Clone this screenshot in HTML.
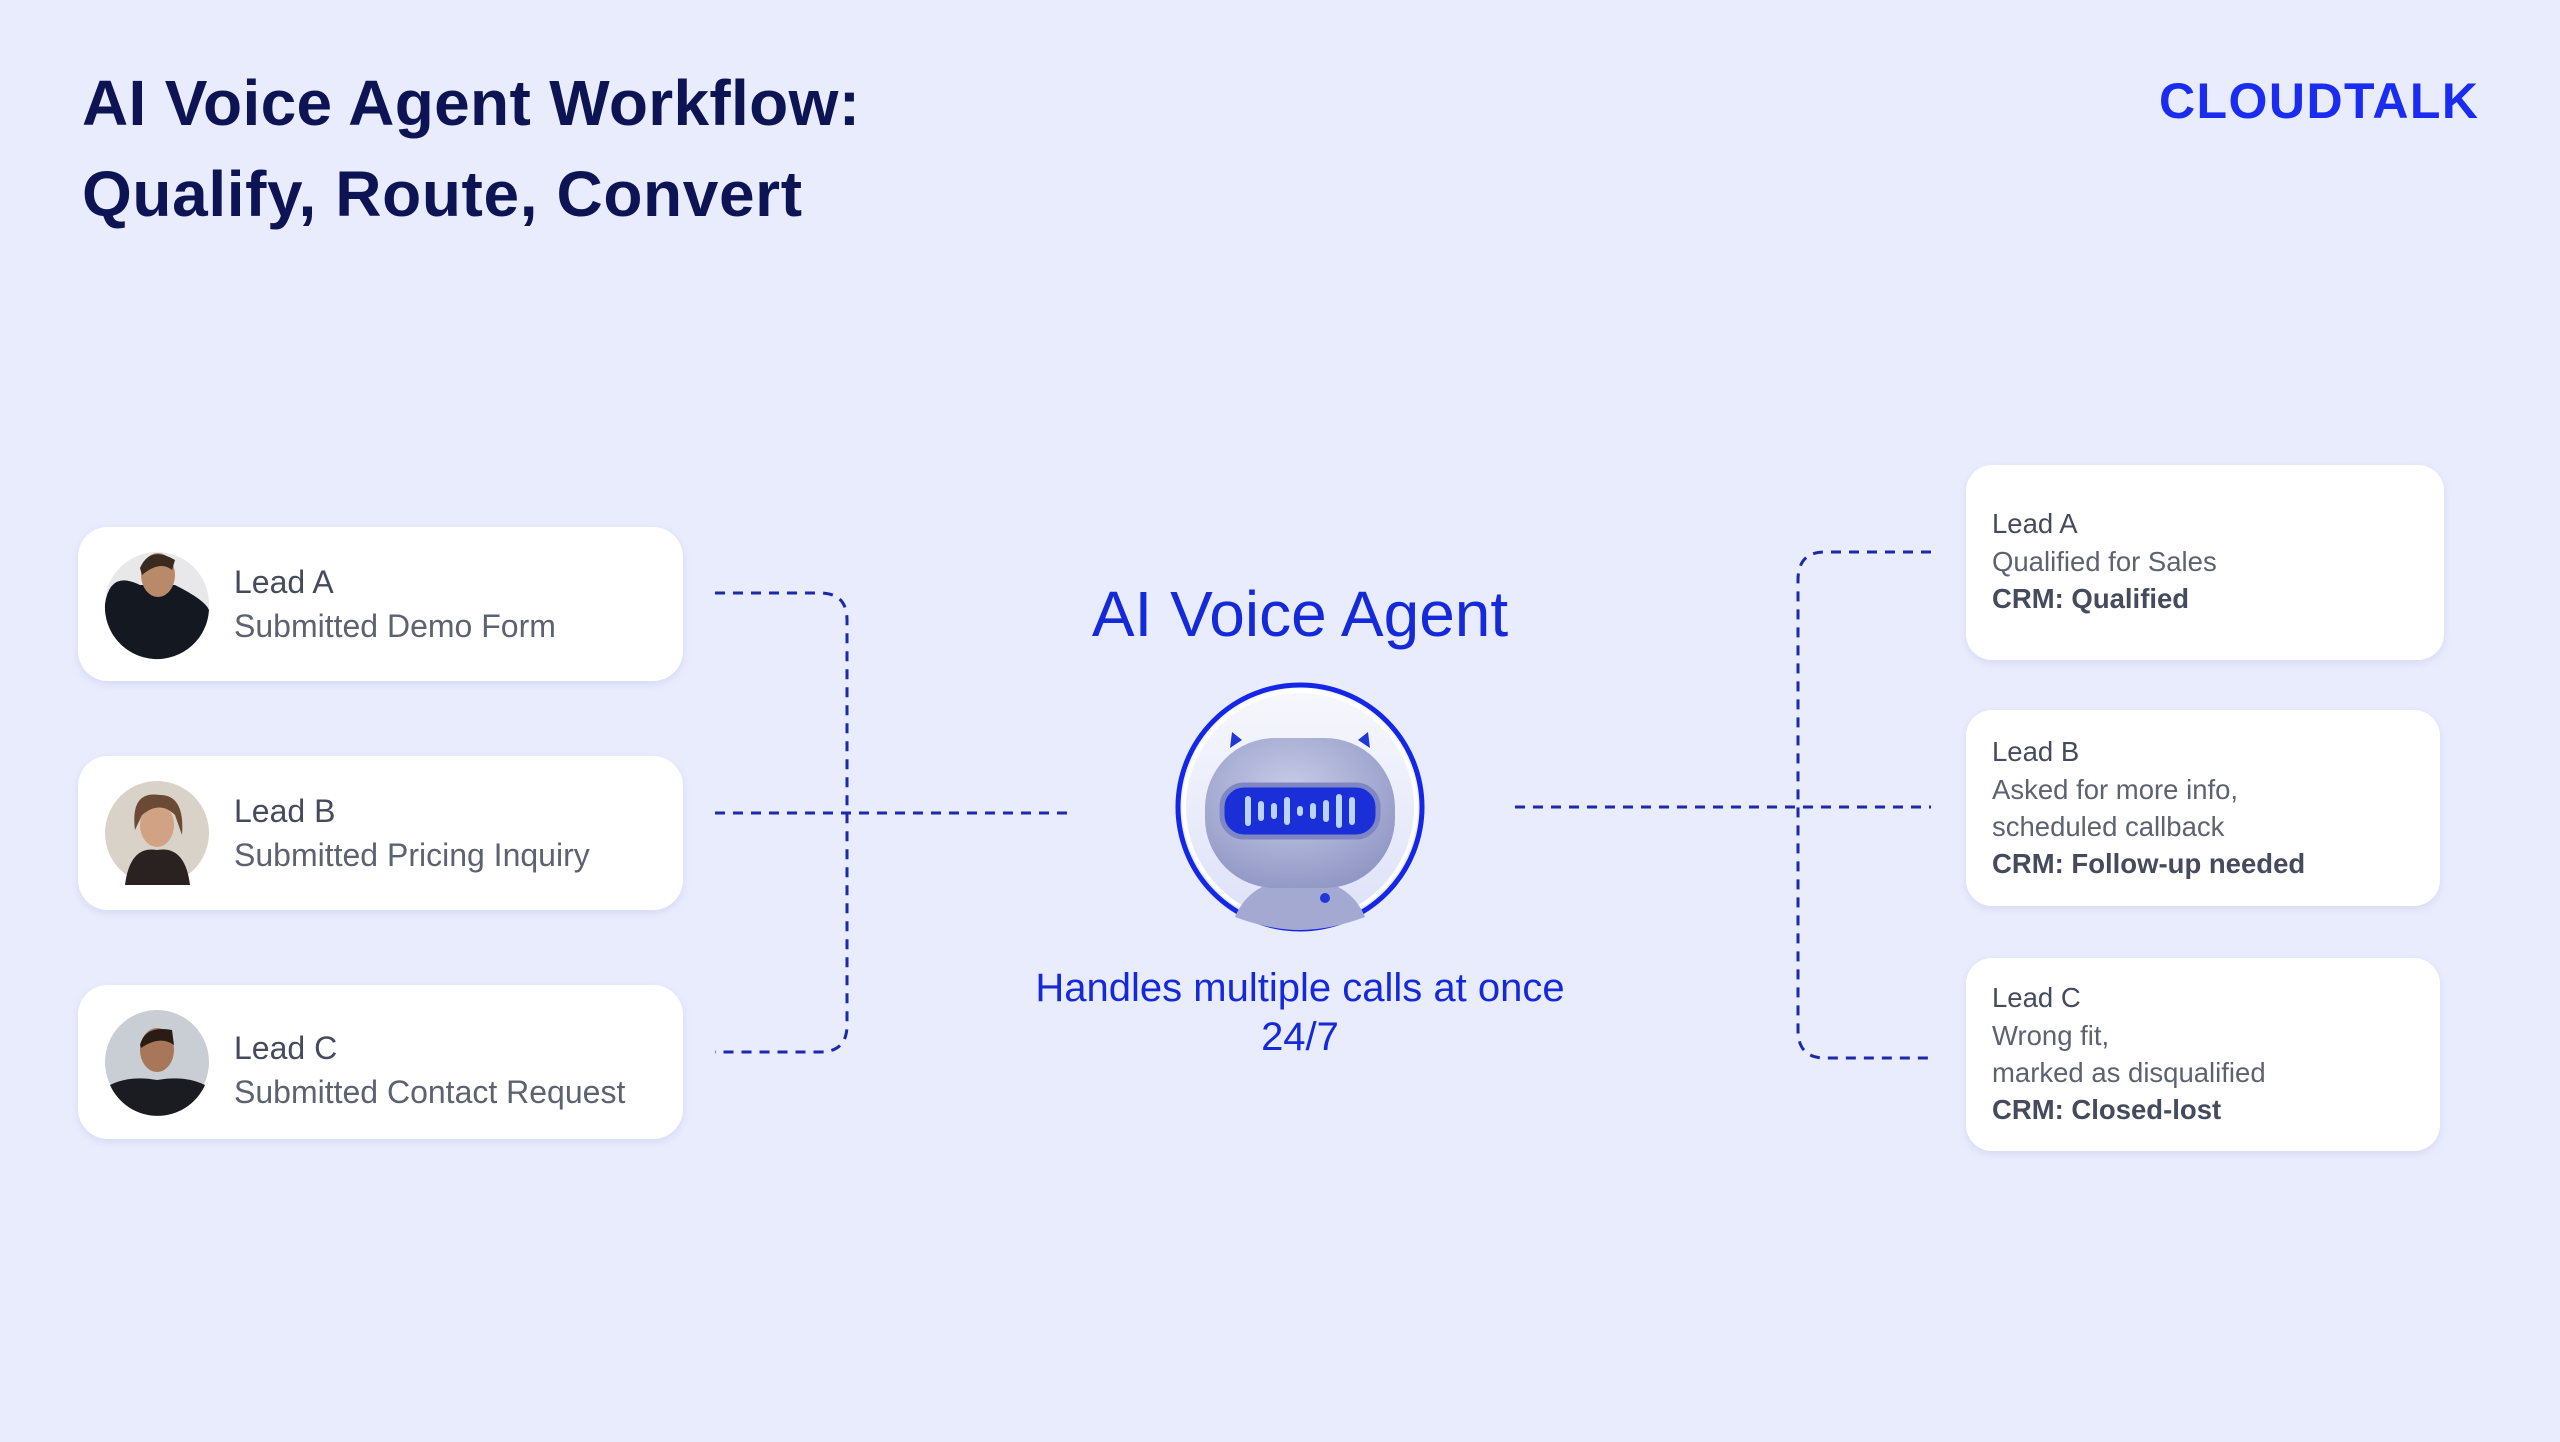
<!DOCTYPE html>
<html><head><meta charset="utf-8"><style>
html,body{margin:0;padding:0;background:#e9ecfd;}
svg{display:block}
text{font-family:"Liberation Sans",sans-serif}
</style></head><body>
<svg width="2560" height="1442" viewBox="0 0 2560 1442" xmlns="http://www.w3.org/2000/svg">
<defs>
<filter id="sh" x="-10%" y="-10%" width="120%" height="130%"><feDropShadow dx="0" dy="3" stdDeviation="4" flood-color="#9aa3d8" flood-opacity="0.25"/></filter>
<radialGradient id="head" cx="45%" cy="35%" r="70%"><stop offset="0" stop-color="#c8cce8"/><stop offset="1" stop-color="#9096c4"/></radialGradient>
<linearGradient id="bg" x1="0" y1="0" x2="0" y2="1"><stop offset="0" stop-color="#f7f8fd"/><stop offset="1" stop-color="#dde1f8"/></linearGradient>
</defs>
<rect width="2560" height="1442" fill="#e9ecfd"/>
<text x="82" y="125" font-size="64" font-weight="bold" fill="#0c1454" textLength="778">AI Voice Agent Workflow:</text>
<text x="82" y="216" font-size="64" font-weight="bold" fill="#0c1454" textLength="720">Qualify, Route, Convert</text>
<text x="2159" y="118" font-size="50" font-weight="bold" fill="#1a2cf0" letter-spacing="1" textLength="320">CLOUDTALK</text>

<g filter="url(#sh)" fill="#fff">
<rect x="78" y="527" width="605" height="154" rx="30"/>
<rect x="78" y="756" width="605" height="154" rx="30"/>
<rect x="78" y="985" width="605" height="154" rx="30"/>
<rect x="1966" y="465" width="478" height="195" rx="26"/>
<rect x="1966" y="710" width="474" height="196" rx="26"/>
<rect x="1966" y="958" width="474" height="193" rx="26"/>
</g>
<g>
<circle cx="157" cy="604" r="52" fill="#e8e8ea"/>
<path d="M105 604 Q110 570 140 585 L175 585 Q205 600 209 610 A52 52 0 0 1 105 604Z" fill="#141820"/>
<ellipse cx="158" cy="575" rx="17" ry="22" fill="#b98a6a"/><path d="M140 568 Q150 545 175 560 L172 570 Q160 560 142 575Z" fill="#3a2a20"/>
<circle cx="157" cy="833" r="52" fill="#d9d2c8"/>
<path d="M125 885 Q130 845 157 850 Q185 845 190 885Z" fill="#2a2220"/>
<ellipse cx="157" cy="825" rx="17" ry="22" fill="#d2a284"/><path d="M135 830 Q130 790 160 795 Q185 795 182 835 L175 815 Q160 800 142 815Z" fill="#6a4a35"/>
<circle cx="157" cy="1062" r="52" fill="#c9cdd4"/>
<path d="M110 1085 Q130 1075 157 1080 Q185 1075 205 1085 A52 52 0 0 1 110 1085Z" fill="#1a1c22"/>
<ellipse cx="157" cy="1050" rx="17" ry="22" fill="#a87658"/><path d="M140 1045 Q145 1025 172 1030 L174 1045 Q160 1035 141 1048Z" fill="#2a1c15"/>
</g>
<g font-size="32" fill="#454b5c">
<text x="234" y="593">Lead A</text>
<text x="234" y="637" fill="#5d6270">Submitted Demo Form</text>
<text x="234" y="822">Lead B</text>
<text x="234" y="866" fill="#5d6270">Submitted Pricing Inquiry</text>
<text x="234" y="1059">Lead C</text>
<text x="234" y="1103" fill="#5d6270">Submitted Contact Request</text>
</g>
<g font-size="27.5" fill="#5d6270">
<text x="1992" y="533" fill="#454b5c">Lead A</text>
<text x="1992" y="571">Qualified for Sales</text>
<text x="1992" y="608" fill="#454b5c" font-weight="bold">CRM: Qualified</text>
<text x="1992" y="761" fill="#454b5c">Lead B</text>
<text x="1992" y="799">Asked for more info,</text>
<text x="1992" y="836">scheduled callback</text>
<text x="1992" y="873" fill="#454b5c" font-weight="bold">CRM: Follow-up needed</text>
<text x="1992" y="1007" fill="#454b5c">Lead C</text>
<text x="1992" y="1045">Wrong fit,</text>
<text x="1992" y="1082">marked as disqualified</text>
<text x="1992" y="1119" fill="#454b5c" font-weight="bold">CRM: Closed-lost</text>
</g>
<g fill="none" stroke="#1b2aa8" stroke-width="3" stroke-dasharray="10 8">
<path d="M715 593 L820 593 Q847 593 847 620 L847 1025 Q847 1052 820 1052 L715 1052"/>
<path d="M715 813 L1071 813"/>
<path d="M1515 807 L1931 807"/>
<path d="M1931 552 L1825 552 Q1798 552 1798 580 L1798 1030 Q1798 1058 1825 1058 L1931 1058"/>
</g>
<text x="1300" y="636" font-size="64" fill="#1429d8" text-anchor="middle">AI Voice Agent</text>
<circle cx="1300" cy="807" r="122" fill="url(#bg)" stroke="#1426e6" stroke-width="5"/>
<circle cx="1300" cy="807" r="116" fill="none" stroke="#ffffff" stroke-width="4"/>
<path d="M1235 917 Q1250 880 1300 878 Q1350 880 1365 917 Q1330 930 1300 930 Q1270 930 1235 917Z" fill="#a4a9d2"/>
<path d="M1230 748 l2 -16 l10 8Z M1370 748 l-2 -16 l-10 8Z" fill="#2038d8"/>
<rect x="1205" y="738" width="190" height="150" rx="70" fill="url(#head)"/>
<rect x="1222" y="785" width="156" height="52" rx="22" fill="#1a2fd8" stroke="#7e86c4" stroke-width="5"/>
<g fill="#b9d4ff">
<rect x="1245" y="796" width="6" height="30" rx="3"/><rect x="1258" y="801" width="6" height="20" rx="3"/><rect x="1271" y="803" width="6" height="16" rx="3"/><rect x="1284" y="797" width="6" height="28" rx="3"/><rect x="1297" y="806" width="6" height="10" rx="3"/><rect x="1310" y="803" width="6" height="16" rx="3"/><rect x="1323" y="800" width="6" height="22" rx="3"/><rect x="1336" y="794" width="6" height="34" rx="3"/><rect x="1349" y="797" width="6" height="28" rx="3"/>
</g>
<circle cx="1325" cy="898" r="5" fill="#2038d8"/>
<text x="1300" y="1001" font-size="40" fill="#1429d8" text-anchor="middle">Handles multiple calls at once</text>
<text x="1300" y="1050" font-size="40" fill="#1429d8" text-anchor="middle">24/7</text>
</svg>
</body></html>
